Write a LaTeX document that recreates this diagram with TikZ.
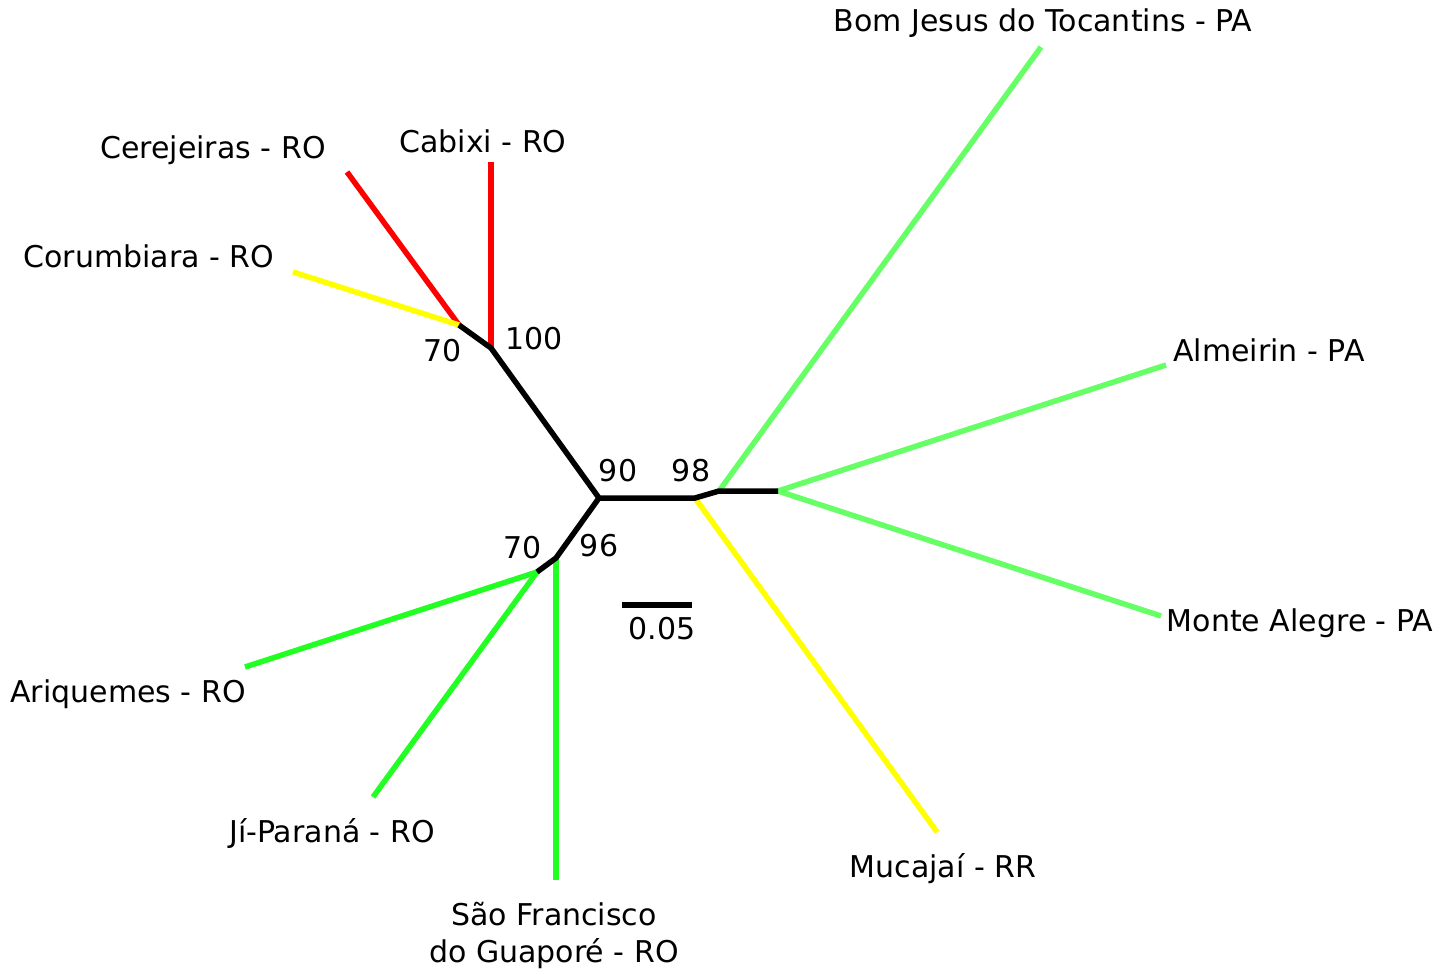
\documentclass[tikz,border=0pt]{standalone}
\usepackage{fontspec}
\setmainfont{DejaVu Sans}
\definecolor{tred}{RGB}{255,0,0}
\definecolor{tyel}{RGB}{255,255,0}
\definecolor{tlg}{RGB}{102,255,102}
\definecolor{tbg}{RGB}{34,255,34}
\begin{document}
\begin{tikzpicture}[x=1pt,y=-1pt,
  br/.style={line width=5.5pt,line cap=butt,line join=miter},
  lab/.style={font=\fontsize{30}{37}\selectfont,inner sep=0pt},
  boot/.style={font=\fontsize{30}{37}\selectfont,inner sep=0pt}]
\useasboundingbox (0,0) rectangle (1451,970);
% internal nodes
\coordinate (A) at (459,325);
\coordinate (B) at (491,348);
\coordinate (C) at (599,498);
\coordinate (D) at (695,498);
\coordinate (E) at (719,491);
\coordinate (F) at (778,491);
\coordinate (G) at (556,558);
\coordinate (H) at (537,572);
% leaves
\coordinate (cer) at (347,172);
\coordinate (cor) at (293,272);
\coordinate (cab) at (491,162);
\coordinate (bom) at (1041,47);
\coordinate (alm) at (1166,365);
\coordinate (mon) at (1161,616);
\coordinate (muc) at (937,832);
\coordinate (sao) at (556,880);
\coordinate (ari) at (245,667);
\coordinate (jip) at (373,797);
% leaf branches
\draw[br,tred] (A) -- (cer);
\draw[br,tyel] (A) -- (cor);
\draw[br,tred] (B) -- (cab);
\draw[br,tlg] (E) -- (bom);
\draw[br,tlg] (F) -- (alm);
\draw[br,tlg] (F) -- (mon);
\draw[br,tyel] (D) -- (muc);
\draw[br,tbg] (G) -- (sao);
\draw[br,tbg] (H) -- (ari);
\draw[br,tbg] (H) -- (jip);
% internal branches
\draw[br,black] (A) -- (B) -- (C) -- (D) -- (E) -- (F);
\draw[br,black] (C) -- (G) -- (H);
% labels
\node[lab] (lbom) at (1043,23) {Bom Jesus do Tocantins - PA};
\node[lab] (lcer) at (213,150) {Cerejeiras - RO};
\node[lab] (lcab) at (483,141) {Cabixi - RO};
\node[lab] (lcor) at (149,256) {Corumbiara - RO};
\node[lab] (lalm) at (1269,350) {Almeirin - PA};
\node[lab] (lmon) at (1300,623) {Monte Alegre - PA};
\node[lab] (lari) at (128,694) {Ariquemes - RO};
\node[lab] (ljip) at (332,833) {Jí-Paraná - RO};
\node[lab] (lmuc) at (943,869) {Mucajaí - RR};
\node[lab,align=center] (lsao) at (554,935) {São Francisco\\do Guaporé - RO};
% bootstrap values
\node[boot] (b1) at (443,351) {70};
\node[boot] (b2) at (534,339) {100};
\node[boot] (b3) at (618,471) {90};
\node[boot] (b4) at (691,471) {98};
\node[boot] (b5) at (523,548) {70};
\node[boot] (b6) at (599,546) {96};
% scale bar
\coordinate (s1) at (622,605);
\coordinate (s2) at (692,605);
\draw[br,black] (s1) -- (s2);
\node[boot] (sl) at (662,629) {0.05};
\end{tikzpicture}
\end{document}
